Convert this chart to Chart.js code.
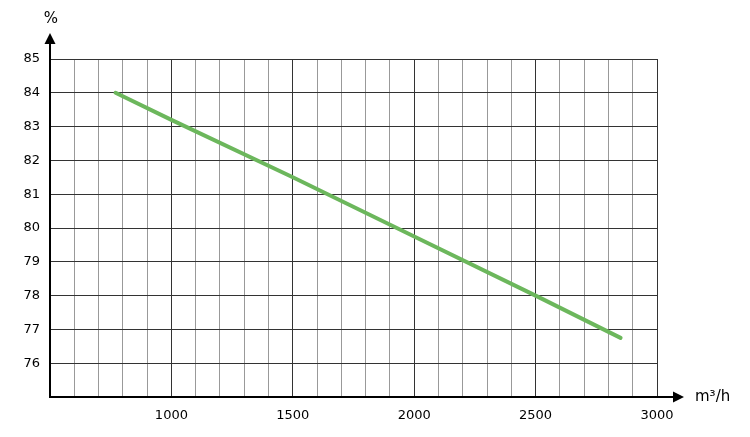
<!DOCTYPE html>
<html>
<head>
<meta charset="utf-8">
<script src="https://cdn.jsdelivr.net/npm/chart.js@4/dist/chart.umd.min.js"></script>
<style>
html,body{margin:0;padding:0;background:#fff;}
#wrap{width:750px;height:437px;position:relative;}
</style>
</head>
<body>
<div id="wrap"><canvas id="c" width="750" height="437"></canvas></div>
<script>
const flowValues = [770, 1000, 1500, 2000, 2500, 2850];
const efficiencyValues = [84.0, 83.2, 81.5, 79.75, 78.0, 76.75];
const xTickLabels = [1000, 1500, 2000, 2500, 3000];
const yTickLabels = [76, 77, 78, 79, 80, 81, 82, 83, 84, 85];
const xTitle = 'm³/h';
const yTitle = '%';

const FONT = '"DejaVu Sans", sans-serif';

const arrowPlugin = {
  id: 'arrows',
  afterDraw(chart) {
    const {ctx, chartArea} = chart;
    ctx.save();
    ctx.fillStyle = '#000';
    ctx.strokeStyle = '#000';
    ctx.lineWidth = 2;
    const x0 = chartArea.left;
    ctx.beginPath();
    ctx.moveTo(x0, chartArea.top);
    ctx.lineTo(x0, 42);
    ctx.stroke();
    ctx.beginPath();
    ctx.moveTo(x0, 33);
    ctx.lineTo(x0 - 5.5, 44);
    ctx.lineTo(x0 + 5.5, 44);
    ctx.closePath();
    ctx.fill();
    const y0 = chartArea.bottom;
    ctx.beginPath();
    ctx.moveTo(chartArea.right, y0);
    ctx.lineTo(674, y0);
    ctx.stroke();
    ctx.beginPath();
    ctx.moveTo(684, y0);
    ctx.lineTo(673, y0 - 5.5);
    ctx.lineTo(673, y0 + 5.5);
    ctx.closePath();
    ctx.fill();
    ctx.font = '15px ' + FONT;
    ctx.textAlign = 'center';
    ctx.textBaseline = 'middle';
    ctx.fillText(yTitle, x0 + 1, 19);
    ctx.textAlign = 'left';
    ctx.fillText(xTitle, 695, y0);
    ctx.restore();
  }
};

new Chart(document.getElementById('c'), {
  type: 'scatter',
  data: {
    datasets: [{
      data: flowValues.map((v, i) => ({x: v, y: efficiencyValues[i]})),
      showLine: true,
      borderColor: 'rgb(108,183,92)',
      borderWidth: 4,
      borderCapStyle: 'round',
      pointRadius: 0,
      tension: 0
    }]
  },
  options: {
    responsive: false,
    animation: false,
    devicePixelRatio: 1,
    layout: {padding: {top: 59, right: 93, left: 0, bottom: 0}},
    plugins: {legend: {display: false}, tooltip: {enabled: false}},
    scales: {
      x: {
        type: 'linear',
        min: 500, max: 3000,
        afterFit(s) { s.height = 40; },
        ticks: {
          stepSize: 100,
          autoSkip: false,
          maxRotation: 0,
          padding: 11,
          color: '#000',
          font: {family: FONT, size: 13},
          callback: v => xTickLabels.includes(v) ? String(v) : ''
        },
        grid: {
          drawTicks: false,
          color: c => (c.tick && c.tick.value % 500 === 0) ? '#333' : '#999',
          lineWidth: 1
        },
        border: {display: true, color: '#000', width: 2}
      },
      y: {
        type: 'linear',
        min: 75, max: 85,
        afterFit(s) { s.width = 50; },
        ticks: {
          stepSize: 1,
          autoSkip: false,
          padding: 10,
          color: '#000',
          font: {family: FONT, size: 13},
          callback: v => yTickLabels.includes(v) ? String(v) : ''
        },
        grid: {
          drawTicks: false,
          color: '#333',
          lineWidth: 1
        },
        border: {display: true, color: '#000', width: 2}
      }
    }
  },
  plugins: [arrowPlugin]
});
</script>
</body>
</html>
